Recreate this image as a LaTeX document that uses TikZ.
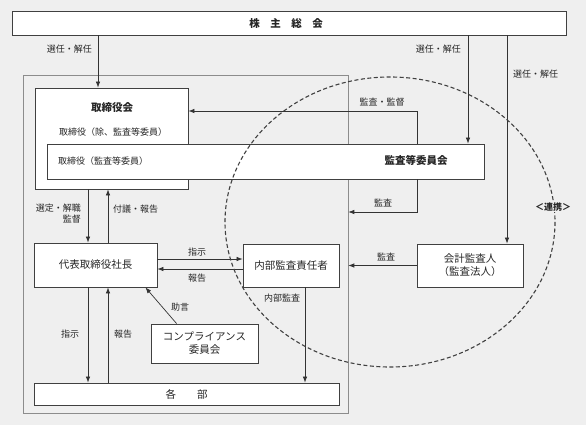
\documentclass[tikz,border=0pt]{standalone}
\usepackage{fontspec}
\setmainfont{Noto Sans CJK JP}
\usetikzlibrary{arrows.meta}
\definecolor{bg}{HTML}{EFEFEF}
\begin{document}
\begin{tikzpicture}[x=1pt,y=-1pt,>={Latex[length=6pt,width=4.5pt]}]
        \tikzstyle{box}=[draw=black!75,fill=white,line width=0.8pt,inner sep=0pt]
        \tikzstyle{lbl}=[font=\fontsize{9}{11}\selectfont,text=black!85,inner sep=1pt]
        \tikzstyle{big}=[font=\fontsize{10.5}{13}\selectfont,text=black!85,align=center]
        \tikzstyle{wire}=[draw=black!80,line width=0.7pt]
        \fill[bg] (0,0) rectangle (586,425);
        \useasboundingbox (0,0) rectangle (586,425);

        \node[box,minimum width=554,minimum height=24] (soukai) at (289,23) {};
        \node[big] (soukaitxt) at (286,23) {\bfseries 株　主　総　会};
        \node[draw=black!45,line width=0.6pt,minimum width=325,minimum height=338] (company) at (185.5,244) {};

        \node[box,minimum width=153,minimum height=101] (bod) at (111.5,138.5) {};
        \node[big] (bodtitle) at (112,108) {\bfseries 取締役会};
        \node[lbl] (bodmem) at (113,132) {取締役（除、監査等委員）};
        \node[box,minimum width=437,minimum height=35] (audcom) at (265.5,161.5) {};
        \node[lbl] (audmem) at (103,161) {取締役（監査等委員）};
        \node[big] (audtitle) at (416,160) {\bfseries 監査等委員会};

        \node[box,big,minimum width=123,minimum height=44] (ceo) at (95.5,265) {代表取締役社長};
        \node[box,big,minimum width=96,minimum height=43] (ia) at (291,265.5) {内部監査責任者};
        \node[box,big,minimum width=106,minimum height=43] (auditor) at (470,265.5) {会計監査人\\（監査法人）};
        \node[box,big,minimum width=107,minimum height=39] (comp) at (204.5,343.5) {コンプライアンス\\委員会};
        \node[box,big,minimum width=305,minimum height=22] (depts) at (186.5,394) {各　　部};

        \foreach \x/\to in {98/bod, 468/audcom, 507/auditor}
                \draw[wire,->] (\x,0 |- soukai.south) -- (\x,0 |- \to.north);
        \node[lbl,anchor=east] (elect1) at (93,49) {選任・解任};
        \node[lbl,anchor=east] (elect2) at (462,49) {選任・解任};
        \node[lbl,anchor=west] (elect3) at (512,74) {選任・解任};

        \draw[wire,->] (417,0 |- audcom.north) |- (bod.east |- 0,111);
        \node[lbl] (kansa1) at (382,102) {監査・監督};
        \draw[wire,->] (417,0 |- audcom.south) |- (company.east |- 0,212);
        \node[lbl] (kansa2) at (383,203) {監査};
        \draw[wire,->] (auditor.west) -- (company.east |- auditor.west);
        \node[lbl] (kansa3) at (386,257) {監査};

        \foreach \top/\bot in {bod/ceo, ceo/depts}
        {
                \draw[wire,->] (88,0 |- \top.south) -- (88,0 |- \bot.north);
                \draw[wire,->] (108,0 |- \bot.north) -- (108,0 |- \top.south);
        }
        \node[lbl,anchor=east,align=right] (sentei) at (82,214) {選定・解職\\監督};
        \node[lbl,anchor=west] (fugi) at (112,209) {付議・報告};
        \node[lbl] (shiji2) at (70,334) {指示};
        \node[lbl] (houkoku2) at (123,334) {報告};

        \draw[wire,->] (ceo.east |- 0,259) -- (ia.west |- 0,259);
        \draw[wire,->] (ia.west |- 0,269) -- (ceo.east |- 0,269);
        \node[lbl] (shiji1) at (197,252) {指示};
        \node[lbl] (houkoku1) at (197,278) {報告};

        \draw[wire,->] ([xshift=26]comp.north west) -- ([xshift=-12]ceo.south east);
        \node[lbl] (jogen) at (180,307) {助言};
        \draw[wire,->] (305,0 |- ia.south) -- (305,0 |- depts.north);
        \node[lbl] (naibu) at (282,298) {内部監査};

        \draw[black!75,line width=1.1pt,dash pattern=on 4pt off 2.5pt] (390,222) ellipse [x radius=165,y radius=145];
        \node[lbl,fill=bg] (renkei) at (553,207) {\bfseries ＜連携＞};
\end{tikzpicture}
\end{document}
